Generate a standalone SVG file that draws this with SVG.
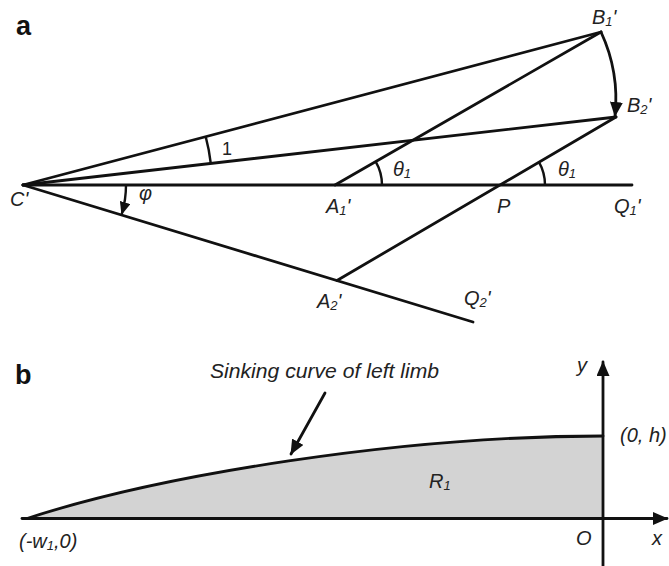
<svg xmlns="http://www.w3.org/2000/svg" width="669" height="566" viewBox="0 0 669 566">
<defs>
<style>
.ln{fill:none;stroke:#111;stroke-width:2.8;stroke-linecap:round;stroke-linejoin:round}
.arc{fill:none;stroke:#111;stroke-width:2.4}
.lbl{font-family:"Liberation Sans",Arial,sans-serif;font-style:italic;font-size:20px;fill:#222}
.up{font-family:"Liberation Sans",Arial,sans-serif;font-size:18px;fill:#222}
.panel{font-family:"Liberation Sans",Arial,sans-serif;font-weight:bold;font-size:27px;fill:#111}
.sub{font-size:13px}
</style>
<marker id="ah" markerUnits="userSpaceOnUse" viewBox="0 0 15 13" markerWidth="15" markerHeight="13" refX="14" refY="6.5" orient="auto">
<path d="M0,0 L15,6.5 L0,13 Z" fill="#111"/>
</marker>
<marker id="ahs" markerUnits="userSpaceOnUse" viewBox="0 0 13 11" markerWidth="13" markerHeight="11" refX="12" refY="5.5" orient="auto">
<path d="M0,0 L13,5.5 L0,11 Z" fill="#111"/>
</marker>
</defs>

<g id="panel-a">
<text class="panel" x="16" y="35">a</text>
<g id="connectors-a">
<line class="ln" x1="23" y1="185" x2="601" y2="32"/>
<line class="ln" x1="23" y1="185" x2="616" y2="117"/>
<line class="ln" x1="23" y1="185" x2="632" y2="185"/>
<line class="ln" x1="23" y1="185" x2="473" y2="322"/>
<line class="ln" x1="335" y1="185" x2="601" y2="32"/>
<line class="ln" x1="337" y1="280.5" x2="616" y2="117"/>
<path class="ln" d="M601,32 A160,160 0 0 1 615,116" marker-end="url(#ah)"/>
<path class="arc" d="M205.7,136.6 A189,189 0 0 1 210.8,163.5"/>
<path class="arc" d="M382,185 A47,47 0 0 0 375.7,161.6"/>
<path class="arc" d="M545,185 A47,47 0 0 0 538.7,161.6"/>
<path class="arc" d="M126,185 A103,103 0 0 1 121.8,214" marker-end="url(#ahs)"/>
</g>
<g id="labels-a">
<text class="lbl" x="10" y="206" font-size="22">C'</text>
<text class="up" x="222" y="155">1</text>
<text class="lbl" x="139" y="200">φ</text>
<text class="lbl" x="393" y="176" font-size="19">θ<tspan class="sub" dy="2">1</tspan></text>
<text class="lbl" x="558" y="176" font-size="19">θ<tspan class="sub" dy="2">1</tspan></text>
<text class="lbl" x="326" y="213">A<tspan class="sub" dy="2">1</tspan><tspan dy="-2">'</tspan></text>
<text class="lbl" x="497" y="213">P</text>
<text class="lbl" x="614" y="213">Q<tspan class="sub" dy="2">1</tspan><tspan dy="-2">'</tspan></text>
<text class="lbl" x="592" y="24">B<tspan class="sub" dy="2">1</tspan><tspan dy="-2">'</tspan></text>
<text class="lbl" x="627" y="112">B<tspan class="sub" dy="2">2</tspan><tspan dy="-2">'</tspan></text>
<text class="lbl" x="317" y="308">A<tspan class="sub" dy="2">2</tspan><tspan dy="-2">'</tspan></text>
<text class="lbl" x="464" y="305">Q<tspan class="sub" dy="2">2</tspan><tspan dy="-2">'</tspan></text>
</g>
</g>

<g id="panel-b">
<text class="panel" x="15" y="384">b</text>
<path id="region-R1" d="M27,518.5 C160,475 400,436 603,436 L603,518.5 Z" fill="#d3d3d3" stroke="none"/>
<g id="connectors-b">
<path class="ln" d="M27,518.5 C160,475 400,436 603,436"/>
<line class="ln" x1="22" y1="518.5" x2="667" y2="518.5" marker-end="url(#ah)"/>
<line class="ln" x1="603" y1="566" x2="603" y2="362" marker-end="url(#ah)"/>
<line class="ln" x1="325" y1="393" x2="291" y2="454" marker-end="url(#ah)"/>
</g>
<g id="labels-b">
<text class="lbl" x="210" y="378" font-size="24" textLength="229" lengthAdjust="spacingAndGlyphs">Sinking curve of left limb</text>
<text class="lbl" x="577" y="372">y</text>
<text class="lbl" x="620" y="442">(0, h)</text>
<text class="lbl" x="429" y="488">R<tspan class="sub" dy="2">1</tspan></text>
<text class="lbl" x="19" y="548">(-w<tspan class="sub" dy="2">1</tspan><tspan dy="-2">,0)</tspan></text>
<text class="lbl" x="576" y="545">O</text>
<text class="lbl" x="652" y="545">x</text>
</g>
</g>
</svg>
